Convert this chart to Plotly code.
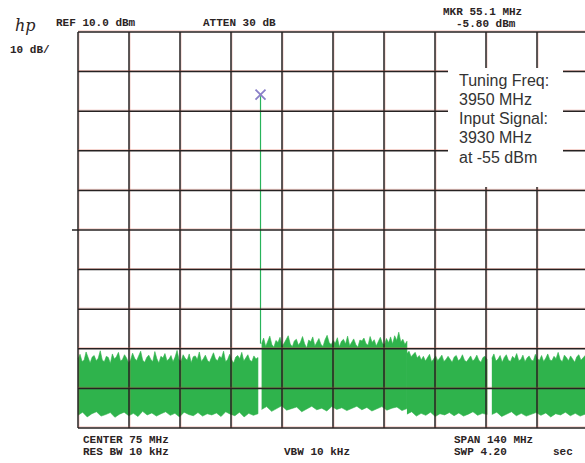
import numpy as np
import plotly.graph_objects as go

# ---- instrument settings ----
ref_level_dbm = 10.0
db_per_div = 10.0
center_mhz = 75.0
span_mhz = 140.0
f_start = center_mhz - span_mhz / 2  # 5 MHz
x_divs = 10
y_divs = 10

marker_freq = 55.1
marker_level = -5.8

# ---- noise floor envelope segments (MHz range, top edge dBm, bottom edge dBm) ----
segA_range = (5.0, 54.4)
segA_top = [-72.6, -71.4, -73.2, -72.9, -70.8, -72.5, -73.6, -72.1, -71.7, -73.0,
            -72.4, -70.5, -72.8, -73.3, -71.9, -72.2, -73.7, -71.3, -72.6, -72.0,
            -70.9, -73.1, -72.7, -71.5, -72.3, -73.5, -72.8, -71.1, -72.4, -73.0,
            -71.8, -70.6, -72.9, -73.4, -72.2, -71.6, -72.7, -73.2, -70.7, -72.5,
            -73.6, -71.9, -72.3, -71.2, -73.0, -72.6, -71.7, -73.3, -72.1, -70.4,
            -72.8, -73.1, -71.5, -72.4, -72.9, -71.3, -73.5, -72.0, -71.8, -72.7,
            -70.8, -73.2, -72.5, -71.6, -72.9, -73.4, -72.2, -71.0, -72.6, -73.0,
            -71.9, -72.3, -70.6, -73.3, -72.7, -71.4, -72.8, -73.6, -72.1, -71.7,
            -72.5, -70.9, -73.1, -72.4, -71.5, -72.9, -73.2, -71.8, -72.6, -72.2]
segA_bot = [-86.8, -86.0, -87.2, -86.4, -85.9, -87.0, -86.6, -86.1, -87.3, -86.5,
            -86.0, -86.9, -86.3, -87.1, -85.8, -86.7, -86.2, -87.0, -86.4, -85.9,
            -86.8, -86.3, -87.2, -86.0, -86.6, -86.9, -86.1, -87.0, -86.4, -86.7,
            -86.2, -87.1, -85.9, -86.5, -86.9, -86.0, -87.2, -86.3, -86.8, -86.4]

segB_range = (55.4, 95.3)
segB_top = [-68.7, -67.3, -69.4, -68.1, -66.8, -68.9, -69.6, -67.9, -68.4, -67.1,
            -69.2, -68.6, -67.5, -66.7, -68.8, -69.5, -68.0, -67.6, -69.1, -68.3,
            -66.9, -68.7, -69.8, -67.8, -68.2, -67.0, -69.3, -68.5, -67.4, -68.9,
            -69.4, -67.7, -66.6, -68.4, -69.0, -67.9, -68.6, -67.2, -69.5, -68.1,
            -67.6, -68.8, -66.8, -69.2, -68.3, -67.5, -68.9, -69.6, -67.8, -68.0,
            -67.3, -68.7, -69.1, -66.9, -68.4, -67.7, -69.3, -68.2, -67.1, -68.6,
            -69.0, -67.4, -68.5, -67.0, -68.8, -66.7, -67.9, -65.8, -68.3, -67.6,
            -68.9, -68.1]
segB_bot = [-85.3, -84.6, -85.8, -85.0, -84.4, -85.5, -85.1, -84.7, -85.9, -85.2,
            -84.5, -85.4, -85.0, -85.7, -84.6, -85.3, -84.9, -85.6, -85.1, -84.5,
            -85.4, -84.8, -85.7, -85.2, -84.6, -85.5, -85.0, -84.7, -85.6, -85.1]

segC_range = (95.3, 117.3)
segC_top = [-71.2, -70.6, -72.0, -71.4, -70.9, -72.3, -71.7, -72.8, -71.9, -73.1,
            -72.2, -71.4, -73.3, -72.5, -71.8, -73.0, -72.4, -71.6, -73.2, -72.7,
            -71.9, -72.8, -73.4, -72.1, -71.7, -73.0, -72.6, -71.5, -72.9, -73.3,
            -72.4, -71.8, -73.1, -72.6, -71.6, -72.9, -73.4, -72.2, -71.9, -72.7]
segC_bot = [-86.5, -85.9, -87.0, -86.3, -86.8, -86.0, -87.1, -86.4, -86.7, -86.1,
            -86.9, -86.2, -87.0, -86.5, -85.9, -86.8, -86.3, -86.6]

segD_range = (118.6, 144.2)
segD_top = [-72.4, -71.3, -73.1, -72.6, -71.7, -73.4, -72.2, -71.5, -72.9, -73.2,
            -71.9, -72.5, -71.2, -73.0, -72.7, -71.6, -73.3, -72.3, -71.8, -72.8,
            -73.1, -71.4, -72.6, -72.9, -71.7, -73.2, -72.4, -71.3, -72.8, -73.0,
            -71.9, -72.5, -70.9, -72.7, -73.3, -71.6, -72.2, -73.0, -71.8, -72.6,
            -73.4, -72.0, -71.5, -72.9, -72.3, -71.7]
segD_bot = [-86.6, -86.0, -87.1, -86.4, -85.9, -86.9, -86.3, -87.0, -86.5, -86.1,
            -86.8, -86.2, -87.2, -86.4, -86.7, -86.0, -86.9, -86.3, -87.0, -86.5]

segments = [(segA_range, segA_top, segA_bot),
            (segB_range, segB_top, segB_bot),
            (segC_range, segC_top, segC_bot),
            (segD_range, segD_top, segD_bot)]

# ---- header / footer labels ----
header_labels = [("REF 10.0 dBm", 55, 23.5), ("ATTEN 30 dB", 202, 23.5),
                 ("MKR 55.1 MHz", 442, 11.5), ("-5.80 dBm", 455, 24),
                 ("10 dB/", 9, 50)]
footer_labels = [("CENTER 75 MHz", 82, 439.5), ("RES BW 10 kHz", 82, 452.5),
                 ("VBW 10 kHz", 283, 452.5), ("SPAN 140 MHz", 453, 439.5),
                 ("SWP 4.20", 453, 452.5), ("sec", 552, 452.5)]
note_lines = ["Tuning Freq:", "3950 MHz", "Input Signal:", "3930 MHz", "at -55 dBm"]

# ---- layout geometry ----
W, H = 585, 463
ML, MT = 76, 30
PW, PH = 509, 400
px_per_mhz = 51.0 / 14.0
px_per_db = 39.6 / 10.0
x0 = f_start - 2 / px_per_mhz
x1 = x0 + PW / px_per_mhz
y_bot_level = ref_level_dbm - db_per_div * y_divs
y0 = y_bot_level - 2 / px_per_db
y1 = y0 + PH / px_per_db


def paper_x(px):
    return (px - ML) / PW


def paper_y(py):
    return (MT + PH - py) / PH


GREEN = "#2fb34c"
GRID = "#262222"
FRINGE = "rgba(215,90,70,0.35)"
TXT = "#2b2424"

fig = go.Figure()

for (rng, top, bot) in segments:
    xt = np.linspace(rng[0], rng[1], len(top))
    xb = np.linspace(rng[0], rng[1], len(bot))
    xs = list(xt) + list(xb[::-1])
    ys = list(top) + list(bot[::-1])
    fig.add_trace(go.Scatter(x=xs, y=ys, fill="toself", fillcolor=GREEN,
                             mode="lines", line=dict(color=GREEN, width=0.6),
                             hoverinfo="skip", showlegend=False))

# signal spike
fig.add_trace(go.Scatter(x=[marker_freq, marker_freq], y=[segB_top[0], marker_level - 0.4],
                         mode="lines", line=dict(color="#27b35a", width=1.2),
                         hoverinfo="skip", showlegend=False))
# marker
fig.add_trace(go.Scatter(x=[marker_freq], y=[marker_level], mode="markers",
                         marker=dict(symbol="x-thin", size=10,
                                     line=dict(color="#8a80c8", width=1.8)),
                         hoverinfo="skip", showlegend=False))

shapes = []
# graticule (drawn above the trace, like the CRT)
for k in range(x_divs + 1):
    f = f_start + k * span_mhz / x_divs
    if f > x1:
        continue
    shapes.append(dict(type="line", xref="x", yref="y", x0=f + 0.27, x1=f + 0.27,
                       y0=y_bot_level, y1=ref_level_dbm, layer="above",
                       line=dict(color=FRINGE, width=1)))
    shapes.append(dict(type="line", xref="x", yref="y", x0=f, x1=f,
                       y0=y_bot_level, y1=ref_level_dbm, layer="above",
                       line=dict(color=GRID, width=1.5)))
for k in range(y_divs + 1):
    lv = y_bot_level + k * db_per_div
    shapes.append(dict(type="line", xref="x", yref="y", x0=f_start, x1=x1,
                       y0=lv + 0.27, y1=lv + 0.27, layer="above",
                       line=dict(color=FRINGE, width=1)))
    shapes.append(dict(type="line", xref="x", yref="y", x0=f_start, x1=x1,
                       y0=lv, y1=lv, layer="above",
                       line=dict(color=GRID, width=1.5)))
# centre-line tick on the left edge
mid_level = ref_level_dbm - db_per_div * y_divs / 2
shapes.append(dict(type="line", xref="paper", yref="y", x0=paper_x(72), x1=paper_x(78),
                   y0=mid_level, y1=mid_level, layer="above",
                   line=dict(color=GRID, width=1.5)))
# annotation box
shapes.append(dict(type="rect", xref="paper", yref="paper",
                   x0=paper_x(448), x1=paper_x(563), y0=paper_y(187), y1=paper_y(68),
                   fillcolor="white", line=dict(width=0), layer="above"))

annotations = []
mono = dict(family="Liberation Mono", size=11, color=TXT)
for (t, px, py) in header_labels + footer_labels:
    annotations.append(dict(text="<b>%s</b>" % t, xref="paper", yref="paper",
                            x=paper_x(px), y=paper_y(py), xanchor="left", yanchor="middle",
                            showarrow=False, font=mono, borderpad=0))
annotations.append(dict(text="<i>hp</i>", xref="paper", yref="paper",
                        x=paper_x(25), y=paper_y(26), xanchor="center", yanchor="middle",
                        showarrow=False, font=dict(family="DejaVu Serif", size=16, color=TXT)))
for i, t in enumerate(note_lines):
    annotations.append(dict(text=t, xref="paper", yref="paper",
                            x=paper_x(458), y=paper_y(80 + i * 19.3),
                            xanchor="left", yanchor="middle", showarrow=False,
                            font=dict(family="Liberation Sans", size=16, color="#333333"),
                            borderpad=0))

fig.update_layout(
    width=W, height=H,
    margin=dict(l=ML, r=W - ML - PW, t=MT, b=H - MT - PH, pad=0),
    paper_bgcolor="white", plot_bgcolor="white",
    xaxis=dict(range=[x0, x1], showgrid=False, zeroline=False, showticklabels=False,
               ticks="", showline=False, fixedrange=True),
    yaxis=dict(range=[y0, y1], showgrid=False, zeroline=False, showticklabels=False,
               ticks="", showline=False, fixedrange=True),
    shapes=shapes, annotations=annotations, showlegend=False,
)

fig.write_html("out.html", config={"displayModeBar": False},
               post_script="document.body.style.margin='0';document.body.style.padding='0';"
                           "document.body.style.overflow='hidden';")
